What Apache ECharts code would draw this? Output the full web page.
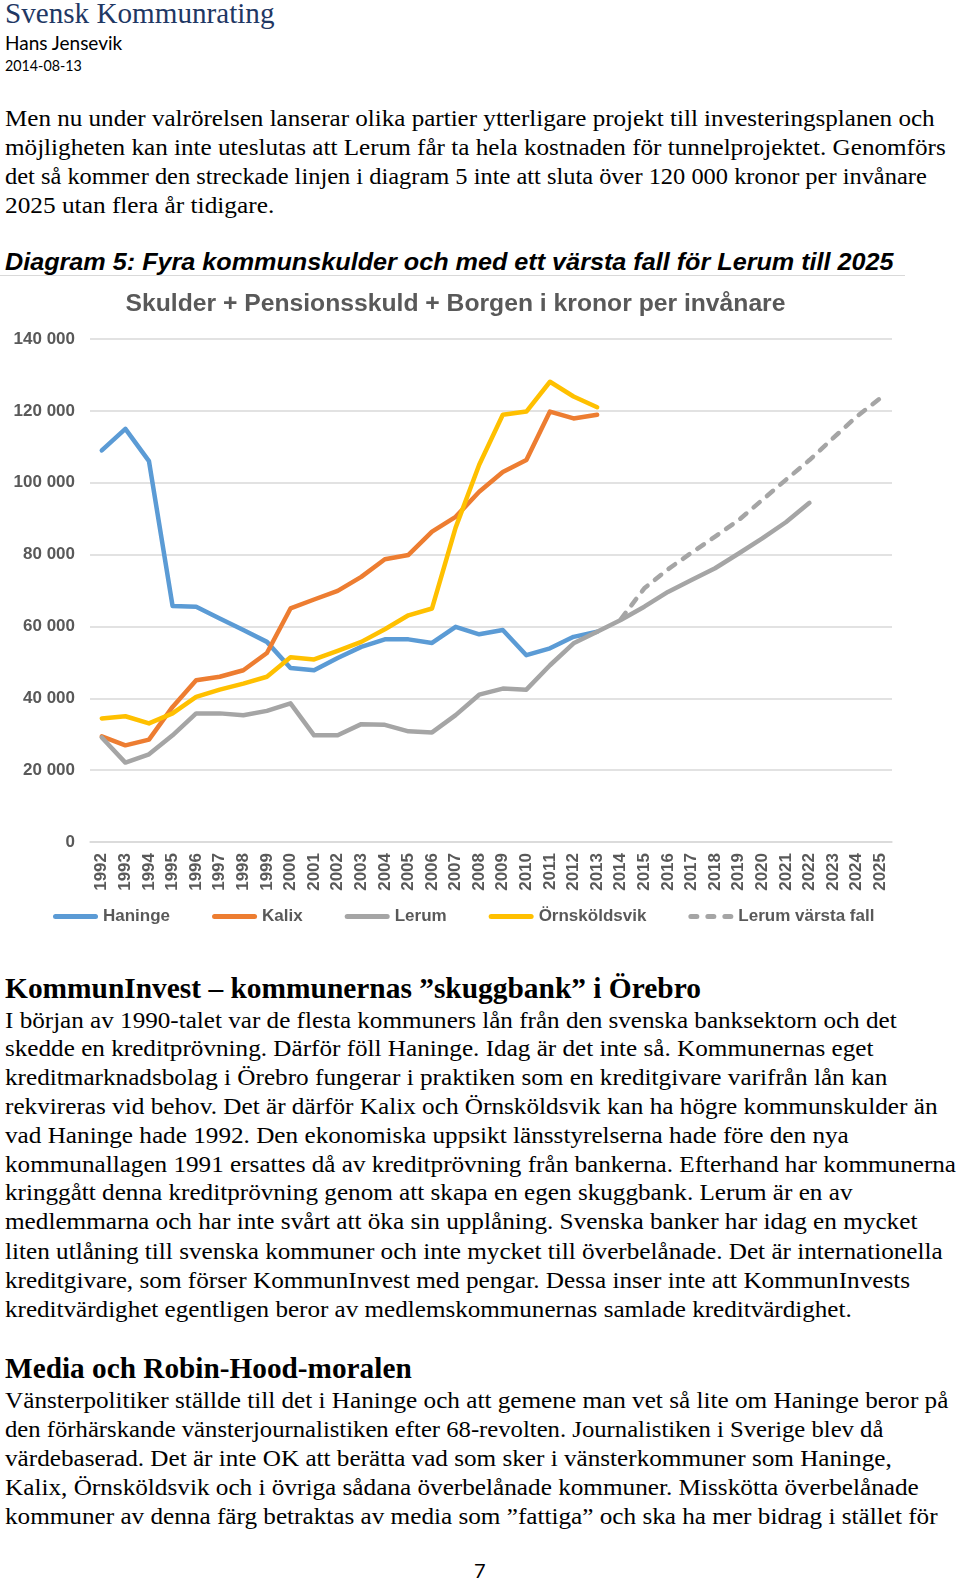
<!DOCTYPE html>
<html>
<head>
<meta charset="utf-8">
<script src="https://cdn.jsdelivr.net/npm/echarts@6/dist/echarts.min.js"></script>
<style>
  html, body { margin:0; padding:0; background:#fff; }
  body { width:960px; height:1581px; position:relative; overflow:hidden; }
  .t { position:absolute; left:5px; white-space:nowrap; line-height:1; transform-origin:0 50%; transform:translateY(-50%); color:#000; }
  .serif { font-family:"Liberation Serif","Times New Roman",serif; font-size:24px; }
  .h2 { font-family:"Liberation Serif","Times New Roman",serif; font-size:30px; font-weight:bold; }
  .brand { font-family:"Liberation Serif","Times New Roman",serif; font-size:30px; color:#1F3864; }
  .sans { font-family:Lato,"Liberation Sans",sans-serif; }
  .diag { font-family:"Liberation Sans",Arial,sans-serif; font-size:23px; font-weight:bold; font-style:italic; }
  #rule { position:absolute; left:0; top:275px; width:905px; height:1px; background:#D9D9D9; }
  #chart { position:absolute; left:0; top:280px; width:960px; height:660px; }
</style>
</head>
<body>
<div class="t brand" style="top:13px" data-w="270">Svensk Kommunrating</div>
<div class="t sans" style="top:41.5px;font-size:19px" data-w="117">Hans Jensevik</div>
<div class="t sans" style="top:65px;font-size:15px" data-w="77">2014-08-13</div>

<div class="t serif" style="top:118px" data-w="930">Men nu under valrörelsen lanserar olika partier ytterligare projekt till investeringsplanen och</div>
<div class="t serif" style="top:147px" data-w="941">möjligheten kan inte uteslutas att Lerum får ta hela kostnaden för tunnelprojektet. Genomförs</div>
<div class="t serif" style="top:176px" data-w="922">det så kommer den streckade linjen i diagram 5 inte att sluta över 120 000 kronor per invånare</div>
<div class="t serif" style="top:205px" data-w="269">2025 utan flera år tidigare.</div>

<div class="t diag" style="top:262px" data-w="889">Diagram 5: Fyra kommunskulder och med ett värsta fall för Lerum till 2025</div>
<div id="rule"></div>
<div id="chart"></div>

<div class="t h2" style="top:988px" data-w="696">KommunInvest – kommunernas ”skuggbank” i Örebro</div>
<div class="t serif" style="top:1019.5px" data-w="892">I början av 1990-talet var de flesta kommuners lån från den svenska banksektorn och det</div>
<div class="t serif" style="top:1048px" data-w="868">skedde en kreditprövning. Därför föll Haninge. Idag är det inte så. Kommunernas eget</div>
<div class="t serif" style="top:1077px" data-w="882">kreditmarknadsbolag i Örebro fungerar i praktiken som en kreditgivare varifrån lån kan</div>
<div class="t serif" style="top:1105.5px" data-w="933">rekvireras vid behov. Det är därför Kalix och Örnsköldsvik kan ha högre kommunskulder än</div>
<div class="t serif" style="top:1134.5px" data-w="844">vad Haninge hade 1992. Den ekonomiska uppsikt länsstyrelserna hade före den nya</div>
<div class="t serif" style="top:1163.5px" data-w="951">kommunallagen 1991 ersattes då av kreditprövning från bankerna. Efterhand har kommunerna</div>
<div class="t serif" style="top:1192px" data-w="847">kringgått denna kreditprövning genom att skapa en egen skuggbank. Lerum är en av</div>
<div class="t serif" style="top:1221px" data-w="912">medlemmarna och har inte svårt att öka sin upplåning. Svenska banker har idag en mycket</div>
<div class="t serif" style="top:1250.5px" data-w="938">liten utlåning till svenska kommuner och inte mycket till överbelånade. Det är internationella</div>
<div class="t serif" style="top:1279.5px" data-w="905">kreditgivare, som förser KommunInvest med pengar. Dessa inser inte att KommunInvests</div>
<div class="t serif" style="top:1309px" data-w="847">kreditvärdighet egentligen beror av medlemskommunernas samlade kreditvärdighet.</div>

<div class="t h2" style="top:1368px" data-w="407">Media och Robin-Hood-moralen</div>
<div class="t serif" style="top:1399.5px" data-w="943">Vänsterpolitiker ställde till det i Haninge och att gemene man vet så lite om Haninge beror på</div>
<div class="t serif" style="top:1429px" data-w="878">den förhärskande vänsterjournalistiken efter 68-revolten. Journalistiken i Sverige blev då</div>
<div class="t serif" style="top:1458px" data-w="887">värdebaserad. Det är inte OK att berätta vad som sker i vänsterkommuner som Haninge,</div>
<div class="t serif" style="top:1486.5px" data-w="914">Kalix, Örnsköldsvik och i övriga sådana överbelånade kommuner. Misskötta överbelånade</div>
<div class="t serif" style="top:1515.5px" data-w="933">kommuner av denna färg betraktas av media som ”fattiga” och ska ha mer bidrag i stället för</div>

<div class="t sans" style="top:1570px;left:474px;font-size:20px">7</div>

<script>
// ---- Chart data ----
const chartTitle = 'Skulder + Pensionsskuld + Borgen i kronor per invånare';
const years = ['1992','1993','1994','1995','1996','1997','1998','1999','2000','2001','2002','2003',
               '2004','2005','2006','2007','2008','2009','2010','2011','2012','2013','2014','2015',
               '2016','2017','2018','2019','2020','2021','2022','2023','2024','2025'];
const seriesNames = ['Haninge','Kalix','Lerum','Örnsköldsvik','Lerum värsta fall'];
const haninge = [109000,115000,106000,65700,65500,62200,59000,55700,48400,47800,51200,54300,
                 56400,56400,55400,59900,57800,59000,52000,53900,57100,58500,
                 null,null,null,null,null,null,null,null,null,null,null,null];
const kalix = [29400,26900,28500,37600,45000,46000,47800,52600,65000,67500,69900,73800,
               78700,79900,86400,90500,97500,103000,106300,119800,117900,118900,
               null,null,null,null,null,null,null,null,null,null,null,null];
const lerum = [29100,22100,24400,29700,35800,35800,35300,36500,38600,29700,29700,32800,
               32600,30800,30500,35300,41000,42700,42400,49200,55300,58500,61800,65500,
               69600,72900,76200,80300,84500,89000,94400,null,null,null];
const ornskoldsvik = [34400,35000,33000,35800,40400,42400,44100,46000,51400,50800,53200,55700,
                      59200,63100,65000,87500,105000,118900,119800,128100,124000,121000,
                      null,null,null,null,null,null,null,null,null,null,null,null];
const lerumWorst = [null,null,null,null,null,null,null,null,null,null,null,null,
                    null,null,null,null,null,null,null,null,null,null,62000,70600,
                    75900,80500,85000,89600,95200,100800,106300,112400,118400,123500];
const colors = ['#5B9BD5','#ED7D31','#A5A5A5','#FFC000','#A5A5A5'];
const yMin = 0, yMax = 140000, yStep = 20000;

const labelColor = '#595959';
const gridColor = '#D9D9D9';
const fontFam = '"Liberation Sans", Arial, sans-serif';

const solidIcon = 'path://M2.5,0 L42.5,0 A2.5,2.5 0 0 1 42.5,5 L2.5,5 A2.5,2.5 0 0 1 2.5,0 Z';
const dashIcon = 'path://M2.5,0 L8.5,0 A2.5,2.5 0 0 1 8.5,5 L2.5,5 A2.5,2.5 0 0 1 2.5,0 Z ' +
                 'M19.5,0 L25.5,0 A2.5,2.5 0 0 1 25.5,5 L19.5,5 A2.5,2.5 0 0 1 19.5,0 Z ' +
                 'M36.5,0 L42.5,0 A2.5,2.5 0 0 1 42.5,5 L36.5,5 A2.5,2.5 0 0 1 36.5,0 Z';

function mkLine(name, data, color, dashed) {
  return {
    name: name, type: 'line', data: data, symbol: 'none', connectNulls: false,
    lineStyle: { color: color, width: 4.5, cap: 'round', join: 'round',
                 type: dashed ? [8, 9.5] : 'solid' },
    itemStyle: { color: color },
    emphasis: { disabled: true }
  };
}

const chart = echarts.init(document.getElementById('chart'), null, { renderer: 'canvas' });
chart.setOption({
  animation: false,
  title: {
    text: chartTitle, left: 455.5, top: 12, padding: 0, textAlign: 'center',
    textStyle: { fontFamily: fontFam, fontWeight: 'bold', fontSize: 24.7, color: labelColor }
  },
  grid: { left: 90, top: 59, width: 802, height: 503, containLabel: false },
  xAxis: {
    type: 'category', data: years, boundaryGap: true,
    axisLine: { show: true, lineStyle: { color: gridColor, width: 1.5 } },
    axisTick: { show: false },
    axisLabel: { interval: 0, rotate: 90, margin: 11, fontSize: 17, fontWeight: 'bold',
                 color: labelColor, fontFamily: fontFam },
    splitLine: { show: false }
  },
  yAxis: {
    type: 'value', min: yMin, max: yMax, interval: yStep,
    axisLine: { show: false }, axisTick: { show: false },
    axisLabel: { margin: 15, fontSize: 17, fontWeight: 'bold', color: labelColor, fontFamily: fontFam,
                 formatter: v => String(v).replace(/\B(?=(\d{3})+(?!\d))/g, ' ') },
    splitLine: { show: true, lineStyle: { color: gridColor, width: 1.5 } }
  },
  legend: {
    left: 53, top: 628, padding: 0, itemWidth: 45, itemHeight: 5, itemGap: 42,
    itemStyle: { borderWidth: 0 },
    lineStyle: { width: 0 },
    textStyle: { fontSize: 17, fontWeight: 'bold', color: labelColor, fontFamily: fontFam },
    data: [
      { name: seriesNames[0], icon: solidIcon },
      { name: seriesNames[1], icon: solidIcon },
      { name: seriesNames[2], icon: solidIcon },
      { name: seriesNames[3], icon: solidIcon },
      { name: seriesNames[4], icon: dashIcon }
    ]
  },
  series: [
    mkLine(seriesNames[0], haninge, colors[0], false),
    mkLine(seriesNames[1], kalix, colors[1], false),
    mkLine(seriesNames[2], lerum, colors[2], false),
    mkLine(seriesNames[3], ornskoldsvik, colors[3], false),
    mkLine(seriesNames[4], lerumWorst, colors[4], true)
  ]
});

function fit() {
  document.querySelectorAll('.t[data-w]').forEach(el => {
    el.style.transform = 'translateY(-50%)';
    const w = el.offsetWidth;
    const target = parseFloat(el.getAttribute('data-w'));
    if (w > 0) el.style.transform = 'translateY(-50%) scaleX(' + (target / w).toFixed(4) + ')';
  });
}
fit();
if (document.fonts && document.fonts.ready) document.fonts.ready.then(fit);
</script>
</body>
</html>
